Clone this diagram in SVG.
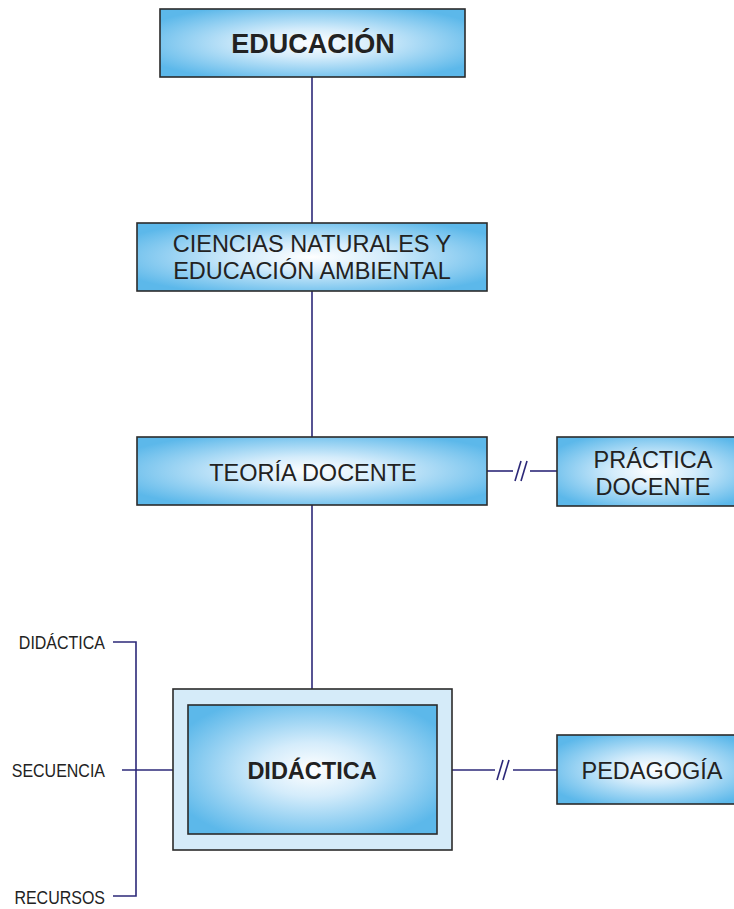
<svg xmlns="http://www.w3.org/2000/svg" width="734" height="909" viewBox="0 0 734 909">
  <defs>
    <radialGradient id="glow" cx="50%" cy="50%" r="60%">
      <stop offset="0" stop-color="#ffffff"/>
      <stop offset="0.35" stop-color="#d4ecfb"/>
      <stop offset="1" stop-color="#5cb8ea"/>
    </radialGradient>
    <style>
      .box { fill: url(#glow); stroke: #2b2b2b; stroke-width: 1.6; }
      .frame { fill: #d5ebf9; stroke: #2b2b2b; stroke-width: 1.6; }
      .link { stroke: #2c2878; stroke-width: 1.6; fill: none; }
      .t { font-family: "Liberation Sans", Arial, sans-serif; fill: #222; text-anchor: middle; }
      .big { font-size: 23.5px; }
      .bold { font-weight: bold; }
      .side { font-family: "Liberation Sans", Arial, sans-serif; fill: #222; font-size: 16px; text-anchor: end; }
    </style>
  </defs>
  <rect width="734" height="909" fill="#ffffff"/>

  <g id="connectors">
    <line class="link" x1="312" y1="77" x2="312" y2="223"/>
    <line class="link" x1="312" y1="291" x2="312" y2="437"/>
    <line class="link" x1="312" y1="505" x2="312" y2="689"/>
    <!-- broken link teoría / práctica -->
    <line class="link" x1="487" y1="471" x2="513" y2="471"/>
    <line class="link" x1="515" y1="481" x2="521" y2="461"/>
    <line class="link" x1="521" y1="481" x2="527" y2="461"/>
    <line class="link" x1="530" y1="471" x2="557" y2="471"/>
    <!-- broken link didáctica / pedagogía -->
    <line class="link" x1="452" y1="770" x2="495" y2="770"/>
    <line class="link" x1="497" y1="780" x2="503" y2="760"/>
    <line class="link" x1="503" y1="780" x2="509" y2="760"/>
    <line class="link" x1="513" y1="770" x2="557" y2="770"/>
    <!-- bracket on the left -->
    <polyline class="link" points="113,642 136,642 136,896 113,896"/>
    <line class="link" x1="122" y1="770" x2="173" y2="770"/>
  </g>

  <g id="educacion">
    <rect class="box" x="160" y="9" width="305" height="68"/>
    <text class="t bold" x="313" y="53" font-size="27">EDUCACIÓN</text>
  </g>

  <g id="ciencias">
    <rect class="box" x="137" y="223" width="350" height="68"/>
    <text class="t big" x="312" y="252">CIENCIAS NATURALES Y</text>
    <text class="t big" x="312" y="279">EDUCACIÓN AMBIENTAL</text>
  </g>

  <g id="teoria">
    <rect class="box" x="137" y="437" width="350" height="68"/>
    <text class="t big" x="313" y="481">TEORÍA DOCENTE</text>
  </g>

  <g id="practica">
    <rect class="box" x="557" y="437" width="193" height="69"/>
    <text class="t big" x="653" y="468">PRÁCTICA</text>
    <text class="t big" x="653" y="495">DOCENTE</text>
  </g>

  <g id="didactica">
    <rect class="frame" x="173" y="689" width="279" height="161"/>
    <rect class="box" x="188" y="705" width="249" height="129"/>
    <text class="t big bold" x="312" y="779">DIDÁCTICA</text>
  </g>

  <g id="pedagogia">
    <rect class="box" x="557" y="735" width="193" height="69"/>
    <text class="t big" x="652" y="779">PEDAGOGÍA</text>
  </g>

  <!-- side labels are slightly stretched vertically -->
  <g id="lbl-didactica">
    <text class="side" transform="translate(105,649) scale(1,1.18)">DIDÁCTICA</text>
  </g>
  <g id="lbl-secuencia">
    <text class="side" transform="translate(105,777) scale(1,1.18)">SECUENCIA</text>
  </g>
  <g id="lbl-recursos">
    <text class="side" transform="translate(105,904) scale(1,1.18)">RECURSOS</text>
  </g>
</svg>
